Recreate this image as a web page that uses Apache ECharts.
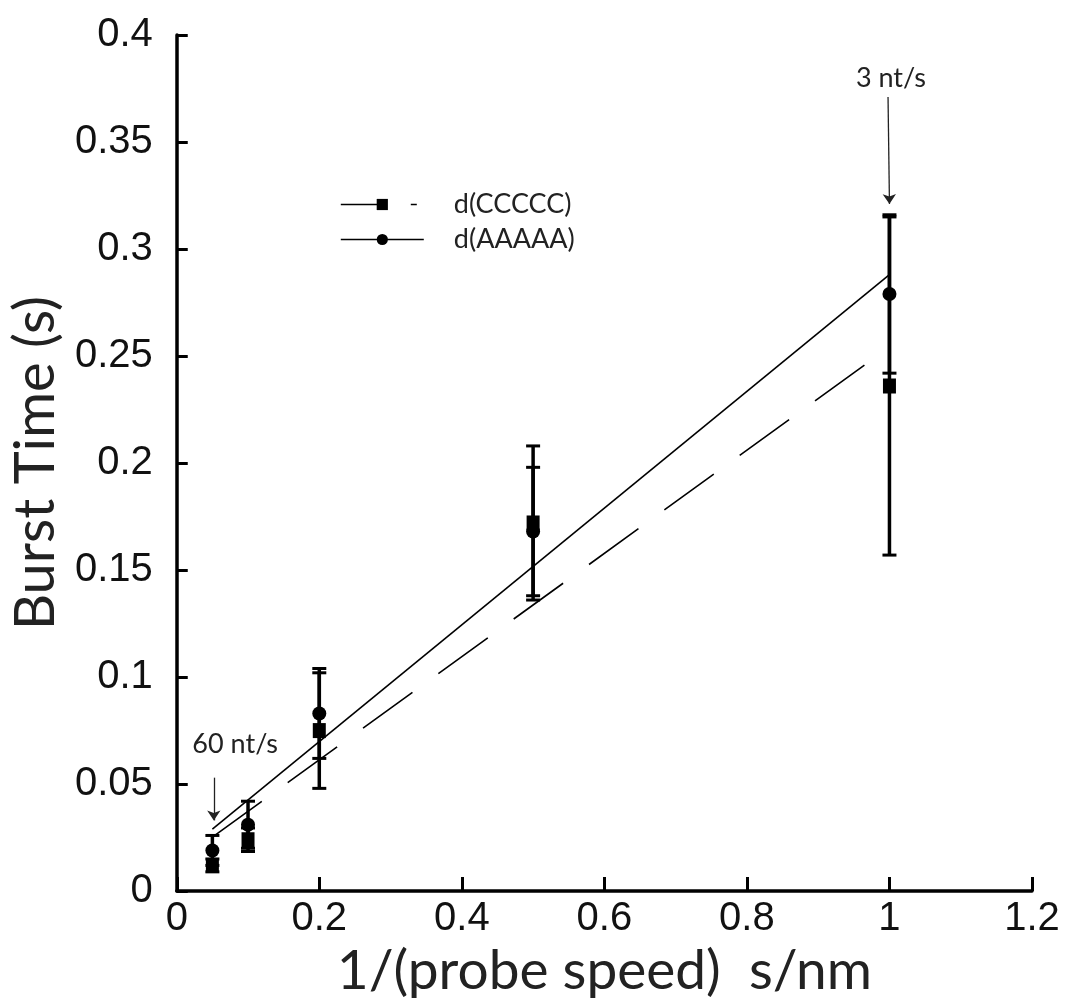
<!DOCTYPE html>
<html>
<head>
<meta charset="utf-8">
<script src="https://cdn.jsdelivr.net/npm/echarts@6/dist/echarts.min.js"></script>
<style>
html,body{margin:0;padding:0;background:#fff;}
#chart{width:1073px;height:1004px;}
</style>
</head>
<body>
<div id="chart"></div>
<script>
// ---- data ----
const xVals = [0.05, 0.1, 0.2, 0.5, 1.0];
const ccccMean = [0.012, 0.024, 0.075, 0.172, 0.236];
const ccccErr  = [0.003, 0.0055, 0.027, 0.036, 0.079];
const aaaaMean = [0.019, 0.031, 0.083, 0.168, 0.279];
const aaaaErr  = [0.007, 0.011, 0.021, 0.030, 0.037];
// linear fits (endpoints)
const fitCx = [0.05, 0.97];
const fitCy = [0.0252, 0.247];
const fitAx = [0.05, 1.0];
const fitAy = [0.029, 0.288];
const xTicks = [0, 0.2, 0.4, 0.6, 0.8, 1, 1.2];
const yTicks = [0, 0.05, 0.1, 0.15, 0.2, 0.25, 0.3, 0.35, 0.4];
const seriesNames = ['d(CCCCC)', 'd(AAAAA)'];
const annotations = [
  {text: '60 nt/s', at: [0.082, 0.0685], from: [0.052, 0.053], to: [0.052, 0.033]},
  {text: '3 nt/s',  at: [1.002, 0.380], from: [0.998, 0.371], to: [1.0, 0.321]}
];

const TXT = 'Lato, "Liberation Sans", Arial, sans-serif';
const NUM = '"Liberation Sans", Arial, sans-serif';

function zip(xs, ys) { return xs.map((x, i) => [x, ys[i]]); }
function errData(xs, m, e) { return xs.map((x, i) => [x, m[i] - e[i], m[i] + e[i]]); }

function errorRender(params, api) {
  const x = api.value(0);
  const lo = api.coord([x, api.value(1)]);
  const hi = api.coord([x, api.value(2)]);
  const cw = 7;
  const st = {stroke: '#000', lineWidth: 3.5};
  const cs = {stroke: '#000', lineWidth: 3};
  return {
    type: 'group',
    children: [
      {type: 'line', shape: {x1: lo[0], y1: lo[1], x2: hi[0], y2: hi[1]}, style: st},
      {type: 'line', shape: {x1: lo[0] - cw, y1: lo[1], x2: lo[0] + cw, y2: lo[1]}, style: cs},
      {type: 'line', shape: {x1: hi[0] - cw, y1: hi[1], x2: hi[0] + cw, y2: hi[1]}, style: cs}
    ]
  };
}

const chart = echarts.init(document.getElementById('chart'), null, {renderer: 'canvas'});
const option = {
  backgroundColor: '#fff',
  animation: false,
  grid: {left: 172, right: 41, top: 35, bottom: 111},
  legend: {
    orient: 'vertical',
    left: 335, top: 186,
    itemWidth: 83, itemHeight: 14, itemGap: 8,
    textStyle: {fontFamily: TXT, fontSize: 27, color: '#222',
      rich: {g: {width: 25}}},
    formatter: n => '{g|}' + n,
    data: [
      {name: seriesNames[0], lineStyle: {type: [37, 33, 6, 40], width: 1.6, color: '#000'}},
      {name: seriesNames[1], lineStyle: {type: 'solid', width: 1.6, color: '#000'}}
    ]
  },
  xAxis: {
    type: 'value', min: 0, max: 1.2, interval: 0.2,
    name: '1/(probe speed)  s/nm', nameLocation: 'middle', nameGap: 38,
    nameTextStyle: {fontFamily: TXT, fontSize: 55, color: '#222'},
    axisLine: {lineStyle: {color: '#000', width: 3.5}},
    axisTick: {inside: true, length: 14, lineStyle: {color: '#000', width: 3}},
    axisLabel: {fontFamily: NUM, fontSize: 40, color: '#111', margin: 8,
      formatter: v => String(xTicks.find(t => Math.abs(t - v) < 1e-9) ?? v)},
    splitLine: {show: false}
  },
  yAxis: {
    type: 'value', min: 0, max: 0.4, interval: 0.05,
    name: 'Burst Time (s)', nameLocation: 'middle', nameGap: 106,
    nameTextStyle: {fontFamily: TXT, fontSize: 56, color: '#222'},
    axisLine: {lineStyle: {color: '#000', width: 3.5}},
    axisTick: {inside: true, length: 11, lineStyle: {color: '#000', width: 3}},
    axisLabel: {fontFamily: NUM, fontSize: 40, color: '#111', margin: 24,
      formatter: v => String(yTicks.find(t => Math.abs(t - v) < 1e-9) ?? v)},
    splitLine: {show: false}
  },
  series: [
    {
      name: seriesNames[0], type: 'line', data: zip(fitCx, fitCy),
      symbol: 'rect', showSymbol: false, silent: true,
      lineStyle: {color: '#000', width: 1.6, type: [61, 32]},
      itemStyle: {color: '#000'}, z: 2
    },
    {
      name: seriesNames[1], type: 'line', data: zip(fitAx, fitAy),
      symbol: 'circle', showSymbol: false, silent: true,
      lineStyle: {color: '#000', width: 1.6, type: 'solid'},
      itemStyle: {color: '#000'}, z: 2,
      markLine: {
        silent: true, symbol: ['none', 'arrow'], symbolSize: 10,
        lineStyle: {color: '#222', width: 1.3, type: 'solid'},
        label: {show: false},
        data: annotations.map(a => [{coord: a.from}, {coord: a.to}])
      },
      markPoint: {
        silent: true, symbol: 'circle', symbolSize: 0,
        label: {show: true, position: 'inside', fontFamily: TXT, fontSize: 27, color: '#222',
          formatter: p => p.name},
        data: annotations.map(a => ({name: a.text, coord: a.at}))
      }
    },
    {
      name: seriesNames[0], type: 'custom', renderItem: errorRender,
      data: errData(xVals, ccccMean, ccccErr), encode: {x: 0, y: [1, 2]}, z: 3
    },
    {
      name: seriesNames[1], type: 'custom', renderItem: errorRender,
      data: errData(xVals, aaaaMean, aaaaErr), encode: {x: 0, y: [1, 2]}, z: 3
    },
    {
      name: seriesNames[0], type: 'scatter', data: zip(xVals, ccccMean),
      symbol: 'rect', symbolSize: [13, 15], itemStyle: {color: '#000', opacity: 1}, z: 4
    },
    {
      name: seriesNames[1], type: 'scatter', data: zip(xVals, aaaaMean),
      symbol: 'circle', symbolSize: 14, itemStyle: {color: '#000', opacity: 1}, z: 4
    }
  ]
};
chart.setOption(option);
</script>
</body>
</html>
